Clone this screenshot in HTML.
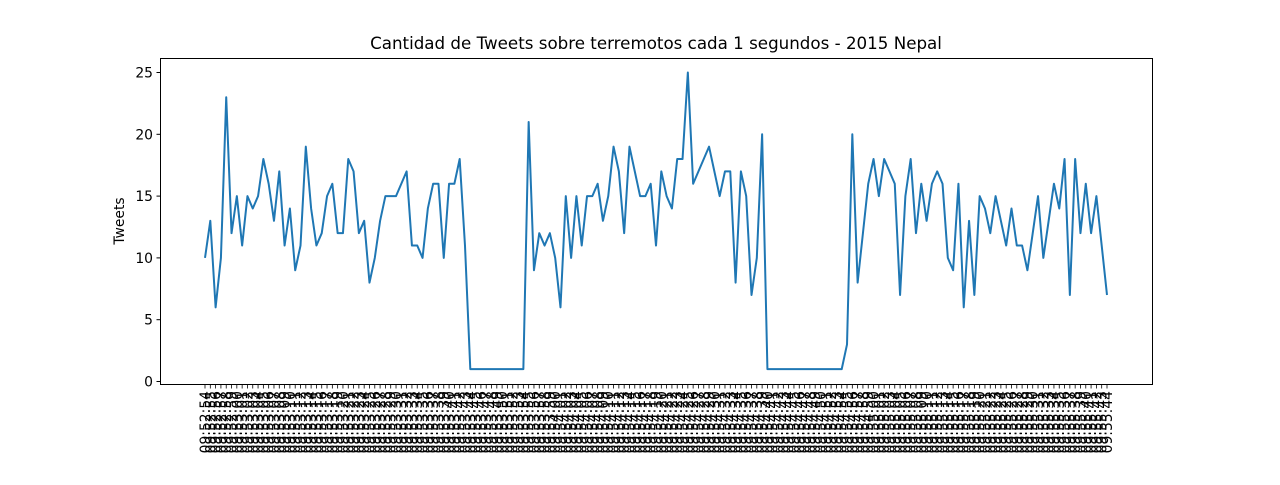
<!DOCTYPE html>
<html><head><meta charset="utf-8"><style>
body{margin:0;background:#fff;width:1280px;height:480px;overflow:hidden}
svg text{font-family:"DejaVu Sans","Liberation Sans",sans-serif;fill:#000}
</style></head><body>
<svg id="chart" width="1280" height="480" xmlns="http://www.w3.org/2000/svg">
<text x="656" y="49" font-size="16.7" text-anchor="middle">Cantidad de Tweets sobre terremotos cada 1 segundos - 2015 Nepal</text>
<text transform="translate(124,221) rotate(-90)" font-size="13.9" text-anchor="middle">Tweets</text>
<g id="grid"></g>
<rect x="160.5" y="58.5" width="992" height="326" fill="none" stroke="#000" stroke-width="1"/>
</svg>
<script>
const startTime = "09:52:54";
const tweets = [10,13,6,10,23,12,15,11,15,14,15,18,16,13,17,11,14,9,11,19,14,11,12,15,16,12,12,18,17,12,13,8,10,13,15,15,15,16,17,11,11,10,14,16,16,10,16,16,18,11,
1,1,1,1,1,1,1,1,1,1,1,21,9,12,11,12,10,6,15,10,15,11,15,15,16,13,15,19,17,12,19,17,15,15,16,11,17,15,14,18,18,25,16,17,18,19,17,15,17,17,8,17,15,7,10,20,
1,1,1,1,1,1,1,1,1,1,1,1,1,1,1,3,20,8,12,16,18,15,18,17,16,7,15,18,12,16,13,16,17,16,10,9,16,6,13,7,15,14,12,15,13,11,14,11,11,9,12,15,10,13,16,14,18,7,18,12,16,12,15,11,7];
const yTicks = [0,5,10,15,20,25];

const svg = document.getElementById('chart');
const NS = 'http://www.w3.org/2000/svg';
const n = tweets.length;
const x0 = 205, x1 = 1107;
const xs = i => x0 + (x1 - x0) * i / (n - 1);
const ys = v => 381.5 - v * (309 / 25);
function lab(i){
  const p = startTime.split(':').map(Number);
  let t = p[0]*3600 + p[1]*60 + p[2] + i;
  const h = Math.floor(t/3600), m = Math.floor(t%3600/60), s = t%60;
  return [h,m,s].map(v => String(v).padStart(2,'0')).join(':');
}
const g = document.getElementById('grid');
yTicks.forEach(v => {
  const y = ys(v);
  const l = document.createElementNS(NS,'line');
  
  
  l.setAttribute('x1',156.5); l.setAttribute('x2',160.5);
  l.setAttribute('y1',y); l.setAttribute('y2',y);
  l.setAttribute('stroke','#000');
  g.appendChild(l);
  const t = document.createElementNS(NS,'text');
  
  
  t.setAttribute('x',153); t.setAttribute('y',y+5);
  t.setAttribute('font-size','13.9'); t.setAttribute('text-anchor','end');
  t.textContent = v;
  g.appendChild(t);
});
for (let i = 0; i < n; i++) {
  const x = xs(i);
  const l = document.createElementNS(NS,'line');
  
  
  l.setAttribute('x1',x); l.setAttribute('x2',x);
  l.setAttribute('y1',384.5); l.setAttribute('y2',388.5);
  l.setAttribute('stroke','#000'); l.setAttribute('stroke-width','0.8');
  g.appendChild(l);
  const t = document.createElementNS(NS,'text');
  
  
  t.setAttribute('transform',`translate(${x+5},391) rotate(-90)`);
  t.setAttribute('font-size','13.9'); t.setAttribute('text-anchor','end');
  t.textContent = lab(i);
  g.appendChild(t);
}
const path = document.createElementNS(NS,'polyline');


path.setAttribute('points', tweets.map((v,i) => xs(i).toFixed(2)+','+ys(v).toFixed(2)).join(' '));
path.setAttribute('fill','none');
path.setAttribute('stroke','#1f77b4');
path.setAttribute('stroke-width','2');
path.setAttribute('stroke-linejoin','round');
svg.appendChild(path);
</script>
</body></html>
